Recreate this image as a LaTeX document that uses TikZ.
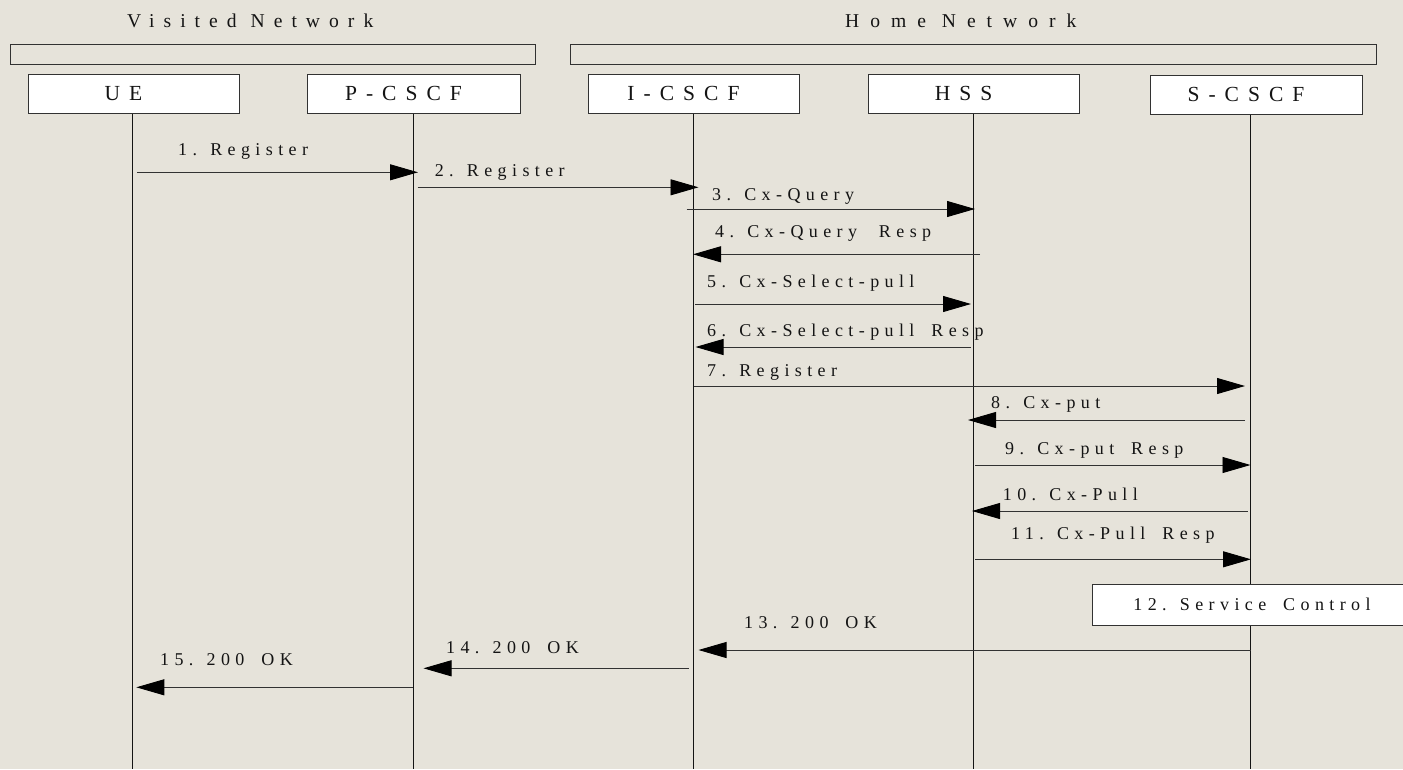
\documentclass[tikz,border=0pt]{standalone}
\usepackage{fontspec}
\setmainfont{Liberation Serif}
\newfontfamily\lblfont[LetterSpace=30]{Liberation Serif}
\newfontfamily\vttlfont[LetterSpace=46]{Liberation Serif}
\newfontfamily\httlfont[LetterSpace=56]{Liberation Serif}
\newfontfamily\boxfont[LetterSpace=42]{Liberation Serif}
\usetikzlibrary{arrows.meta,calc}
\definecolor{bg}{RGB}{230,227,218}
\definecolor{ink}{RGB}{20,20,20}
\definecolor{lnc}{RGB}{50,50,50}
\newcommand\wsp{\hspace{7pt}}
\begin{document}
\begin{tikzpicture}[x=1pt,y=-1pt,
  entitytext/.style={inner sep=0pt, font=\boxfont\fontsize{21.5}{24}\selectfont, text=ink},
  entity/.style={draw=lnc, line width=1pt, fill=white, minimum width=211pt, minimum height=39pt, inner sep=0pt,
    label={[entitytext, xshift=-10pt, yshift=0.5pt]center:#1}},
  netbar/.style={draw=lnc, line width=1pt, minimum height=20pt, inner sep=0pt},
  lifeline/.style={draw=black!92, line width=1pt},
  msg/.style={draw=lnc, line width=0.9pt, -{Triangle[length=28pt,width=16pt,color=black]}},
  lbl/.style={anchor=base west, inner sep=0pt, font=\lblfont\fontsize{18}{20}\selectfont, text=ink},
  vttl/.style={anchor=base west, inner sep=0pt, font=\vttlfont\fontsize{19.6}{22}\selectfont, text=ink},
  httl/.style={anchor=base west, inner sep=0pt, font=\httlfont\fontsize{19.6}{22}\selectfont, text=ink},
  actbox/.style={draw=lnc, line width=1pt, fill=white, anchor=west, minimum width=319pt, minimum height=41pt, inner sep=0pt, font=\lblfont\fontsize{18}{20}\selectfont, text=ink}]
\fill[bg] (0,0) rectangle (1403,769);
\useasboundingbox (0,0) rectangle (1403,769);

% network titles and bars
\node[vttl] (vtitle) at (127,27.3) {Visited Network};
\node[httl] (htitle) at (845,27.3) {Home Network};
\node[netbar, minimum width=525.7pt] (vbar) at (272.85,54.3) {};
\node[netbar, minimum width=806pt] (hbar) at (973,54.3) {};

% entities
\node[entity={UE}] (ue) at (133.5,93.7) {};
\node[entity={P-CSCF}, minimum width=213pt] (pc) at (413.5,93.7) {};
\node[entity={I-CSCF}] (ic) at (693.5,93.7) {};
\node[entity={HSS}] (hss) at (973.7,93.7) {};
\node[entity={S-CSCF}, minimum width=212pt] (sc) at (1256,94.5) {};

\coordinate (bottom) at (0,769);
\coordinate (lUE) at ($(ue.south)+(-0.7,0)$);
\coordinate (lP) at (pc.south);
\coordinate (lI) at (ic.south);
\coordinate (lH) at ($(hss.south)+(-0.7,0)$);
\coordinate (lS) at ($(sc.south)+(-5.5,0)$);

% lifelines
\foreach \l in {lUE,lP,lI,lH,lS} {
  \draw[lifeline] (\l) -- (\l |- bottom);
}

% messages
\draw[msg] ($(lUE|-0,172.3)+(4,0)$) -- ($(lP|-0,172.3)+(4.5,0)$);
\node[lbl] (m1) at (178,155.7) {1. Register};

\draw[msg] ($(lP|-0,187.3)+(4,0)$) -- ($(lI|-0,187.3)+(5,0)$);
\node[lbl] (m2) at (434.6,176.7) {2. Register};

\draw[msg] ($(lI|-0,209)+(-7,0)$) -- ($(lH|-0,209)+(2,0)$);
\node[lbl] (m3) at (712,200) {3. Cx-Query};

\draw[msg] ($(lH|-0,254.3)+(7,0)$) -- ($(lI|-0,254.3)+(-0.5,0)$);
\node[lbl] (m4) at (715,237) {4. Cx-Query\wsp\hspace{5pt} Resp};

\draw[msg] ($(lI|-0,304)+(1.5,0)$) -- ($(lH|-0,304)+(-2,0)$);
\node[lbl] (m5) at (707,287.7) {5. Cx-Select-pull};

\draw[msg] ($(lH|-0,347)+(-2,0)$) -- ($(lI|-0,347)+(2,0)$);
\node[lbl] (m6) at (707,336.7) {6. Cx-Select-pull\wsp{} Resp};

\draw[msg] ($(lI|-0,386)+(0,0)$) -- ($(lS|-0,386)+(-5.5,0)$);
\node[lbl] (m7) at (707,376.7) {7. Register};

\draw[msg] ($(lS|-0,420)+(-5.5,0)$) -- ($(lH|-0,420)+(-5,0)$);
\node[lbl] (m8) at (991,408) {8. Cx-put};

\draw[msg] ($(lH|-0,465)+(2,0)$) -- ($(lS|-0,465)+(0,0)$);
\node[lbl] (m9) at (1005,454) {9. Cx-put\wsp{} Resp};

\draw[msg] ($(lS|-0,511)+(-3,0)$) -- ($(lH|-0,511)+(-1,0)$);
\node[lbl] (m10) at (1002.7,500) {10. Cx-Pull};

\draw[msg] ($(lH|-0,559.3)+(2,0)$) -- ($(lS|-0,559.3)+(0.5,0)$);
\node[lbl] (m11) at (1011,539) {11. Cx-Pull\wsp{} Resp};

\node[actbox] (svc) at (1092,604.5) {12. Service\wsp{} Control};

\draw[msg] ($(lS|-0,650)+(0,0)$) -- ($(lI|-0,650)+(5,0)$);
\node[lbl] (m13) at (744,628) {13. 200\wsp{} OK};

\draw[msg] ($(lI|-0,668.3)+(-5,0)$) -- ($(lP|-0,668.3)+(10,0)$);
\node[lbl] (m14) at (446,653) {14. 200\wsp{} OK};

\draw[msg] ($(lP|-0,687.3)+(-1,0)$) -- ($(lUE|-0,687.3)+(3.5,0)$);
\node[lbl] (m15) at (160,665) {15. 200\wsp{} OK};
\end{tikzpicture}
\end{document}
